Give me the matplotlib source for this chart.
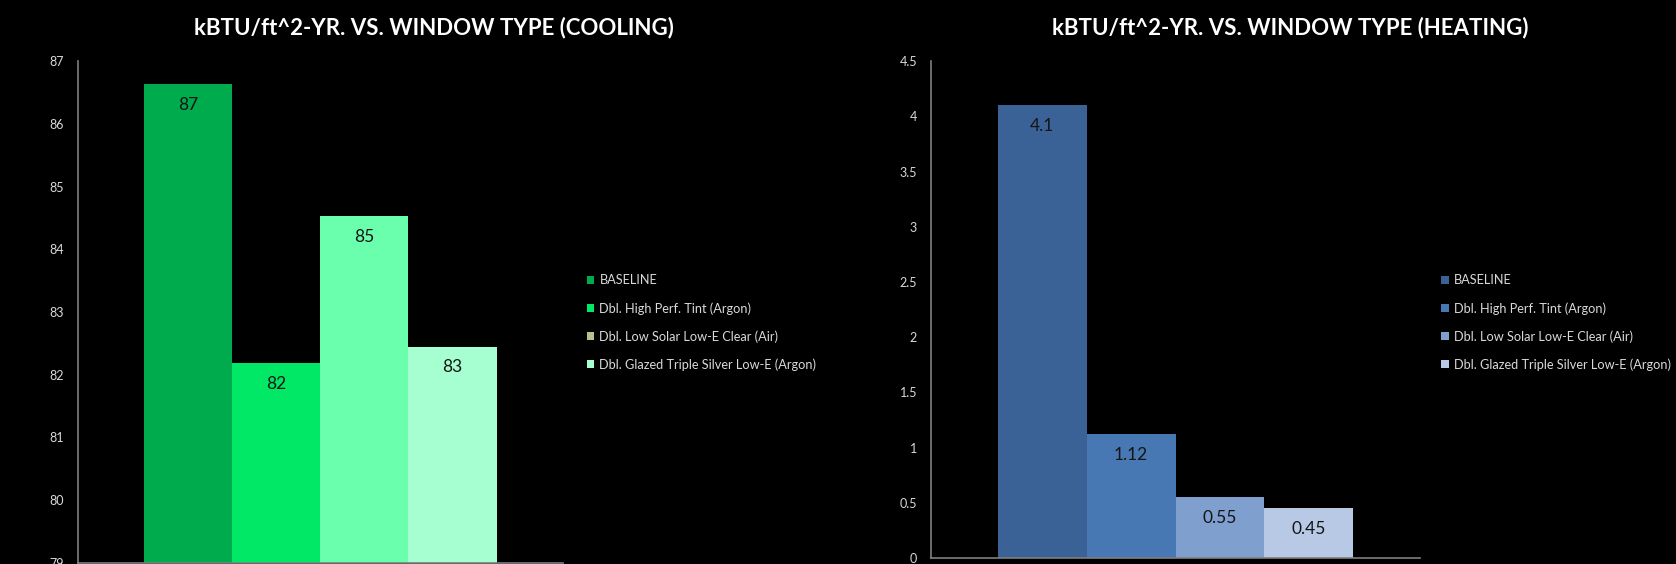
import matplotlib.pyplot as plt
from matplotlib.patches import Patch

# window types (legend entries)
window_types = ["BASELINE", "Dbl. High Perf. Tint (Argon)",
                "Dbl. Low Solar Low-E Clear (Air)",
                "Dbl. Glazed Triple Silver Low-E (Argon)"]

# cooling kBTU/ft^2-yr, labels as shown on the bars
cooling = [86.63, 82.18, 84.53, 82.45]
cooling_labels = ["87", "82", "85", "83"]
cooling_ticks = [79, 80, 81, 82, 83, 84, 85, 86, 87]
cooling_colors = ["#00ab4e", "#00e866", "#69ffad", "#a5ffd1"]
cooling_legend_colors = ["#00ab4e", "#00e866", "#b2c28a", "#a5ffd1"]

# heating kBTU/ft^2-yr
heating = [4.1, 1.12, 0.55, 0.45]
heating_labels = ["4.1", "1.12", "0.55", "0.45"]
heating_ticks = [0, 0.5, 1, 1.5, 2, 2.5, 3, 3.5, 4, 4.5]
heating_colors = ["#3b6296", "#4878b3", "#7f9fcf", "#b8c9e6"]

FONT = ["Liberation Sans Narrow", "Lato", "DejaVu Sans"]
TXT = "#d9d9d9"
AXC = "#7f7f7f"

fig = plt.figure(figsize=(16.76, 5.64), dpi=100, facecolor="black")


def draw(rect, values, labels, ticks, colors, legend_colors, title, title_x, leg_x):
    ax = fig.add_axes(rect)
    ax.set_facecolor("black")
    w = 0.1815
    n = len(values)
    base = ticks[0]
    for i, (v, c) in enumerate(zip(values, colors)):
        x = (i - (n - 1) / 2) * w
        ax.bar(x, v - base, bottom=base, width=w, color=c, edgecolor="none")
        ax.annotate(labels[i], (x, v), xytext=(0, -15), textcoords="offset points",
                    ha="center", va="center", fontsize=12.5, color="#151515",
                    family=FONT)
    ax.set_xlim(-0.5, 0.5)
    ax.set_ylim(ticks[0], ticks[-1])
    ax.set_yticks(ticks)
    ax.set_yticklabels([f"{t:g}" for t in ticks], family=FONT, fontsize=9, color=TXT)
    ax.set_xticks([])
    ax.tick_params(axis="y", length=0, pad=10)
    for s in ["top", "right"]:
        ax.spines[s].set_visible(False)
    for s in ["left", "bottom"]:
        ax.spines[s].set_color(AXC)
        ax.spines[s].set_linewidth(1.2)
    fig.text(title_x, 0.952, title, ha="center", va="center", fontsize=16,
             fontweight="bold", color="white", family=["Lato", "DejaVu Sans"])
    handles = [Patch(facecolor=c, edgecolor="none") for c in legend_colors]
    fig.legend(handles, window_types, loc="center left", bbox_to_anchor=(leg_x, 0.428),
               frameon=False, prop={"family": FONT, "size": 9.2}, labelcolor=TXT,
               handlelength=0.6, handleheight=0.6, handletextpad=0.4,
               labelspacing=1.22, borderpad=0, borderaxespad=0)
    return ax


draw([0.0465, 0.0018, 0.2894, 0.890], cooling, cooling_labels, cooling_ticks,
     cooling_colors, cooling_legend_colors,
     "kBTU/ft^2-YR. VS. WINDOW TYPE (COOLING)", 0.259, 0.350)
draw([0.5555, 0.0106, 0.2918, 0.881], heating, heating_labels, heating_ticks,
     heating_colors, heating_colors,
     "kBTU/ft^2-YR. VS. WINDOW TYPE (HEATING)", 0.770, 0.860)

fig.savefig("out.png", dpi=100, facecolor="black")
